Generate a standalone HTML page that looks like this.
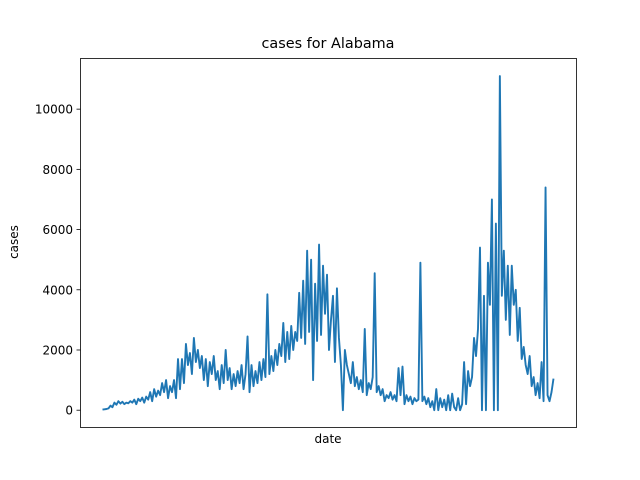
<!DOCTYPE html>
<html><head><meta charset="utf-8"><style>
body{margin:0;background:#fff}
svg{display:block;font-family:"DejaVu Sans","Liberation Sans",sans-serif}
</style></head><body>
<svg id="chart" width="640" height="480">
<rect width="640" height="480" fill="#fff"/>
<text x="328" y="48" font-size="14.4" text-anchor="middle">cases for Alabama</text>
<text x="328" y="443" font-size="12" text-anchor="middle">date</text>
<text x="0" y="0" font-size="12" text-anchor="middle" transform="translate(18,242) rotate(-90)">cases</text>
<g id="yaxis"></g>
<g id="plot"></g>
<rect x="80.5" y="58.5" width="496" height="369" fill="none" stroke="#000" stroke-width="0.8"/>
</svg>
<script>
const yTicks=[0,2000,4000,6000,8000,10000];
const yTickLabels=["0","2000","4000","6000","8000","10000"];
const cases=[20,30,40,60,
150,100,250,180,300,220,280,200,250,230,
300,250,350,200,380,300,420,250,450,350,600,300,700,450,650,
500,900,600,1000,400,800,600,
1000,400,1700,700,1700,900,
2200,1500,1900,1200,2400,1600,2000,1400,1800,1000,
1700,800,1600,1200,1800,
1000,1300,700,1500,900,2000,1000,1400,700,1200,800,1300,900,1500,700,
1200,2450,600,1500,800,1300,900,
1600,1000,1700,1100,3850,1200,1800,1300,2000,1500,2200,1800,2900,1600,2600,
1700,2800,2000,2600,2300,
3900,2400,4300,2200,5300,2600,5000,1000,
4200,2300,5500,2500,4800,3200,4500,2000,
3000,3800,1600,4050,2400,1500,0,
2000,1500,1200,900,1600,800,1100,
700,1000,600,2700,500,900,700,1100,4550,600,
800,500,700,300,500,400,600,350,500,300,1400,500,1450,200,500,300,450,200,400,300,350,
4900,300,
450,200,400,100,300,0,700,0,400,100,350,0,500,0,550,100,0,400,0,200,
1600,200,1300,800,1100,
2400,1800,2700,5400,0,
3800,0,4900,3500,7000,0,
6200,0,11100,3800,
5300,3000,4800,2500,4800,3500,4000,2300,3400,
1700,2100,1500,1200,1800,800,
1100,500,900,400,1600,
300,7400,500,300,600,1050];
const NS="http://www.w3.org/2000/svg";
const x0=102.5,x1=553.5;
function xs(i){return x0+(x1-x0)*i/(cases.length-1);}
function ys(v){return 410.2-v*0.030105;}
const ya=document.getElementById('yaxis');
yTicks.forEach((t,k)=>{
  const l=document.createElementNS(NS,'line');
  l.setAttribute('x1',76.5);l.setAttribute('x2',80.5);
  l.setAttribute('y1',ys(t));l.setAttribute('y2',ys(t));
  l.setAttribute('stroke','#000');l.setAttribute('stroke-width','0.8');
  
  
  ya.appendChild(l);
  const tx=document.createElementNS(NS,'text');
  tx.setAttribute('x',73);tx.setAttribute('y',ys(t)+4.5);
  tx.setAttribute('font-size','12');tx.setAttribute('text-anchor','end');
  tx.textContent=yTickLabels[k];
  
  
  ya.appendChild(tx);
});
const p=document.createElementNS(NS,'polyline');
p.setAttribute('points',cases.map((v,i)=>xs(i).toFixed(2)+','+ys(v).toFixed(2)).join(' '));
p.setAttribute('fill','none');p.setAttribute('stroke','#1f77b4');
p.setAttribute('stroke-width','1.9');p.setAttribute('stroke-linejoin','round');


document.getElementById('plot').appendChild(p);
</script>
</body></html>
